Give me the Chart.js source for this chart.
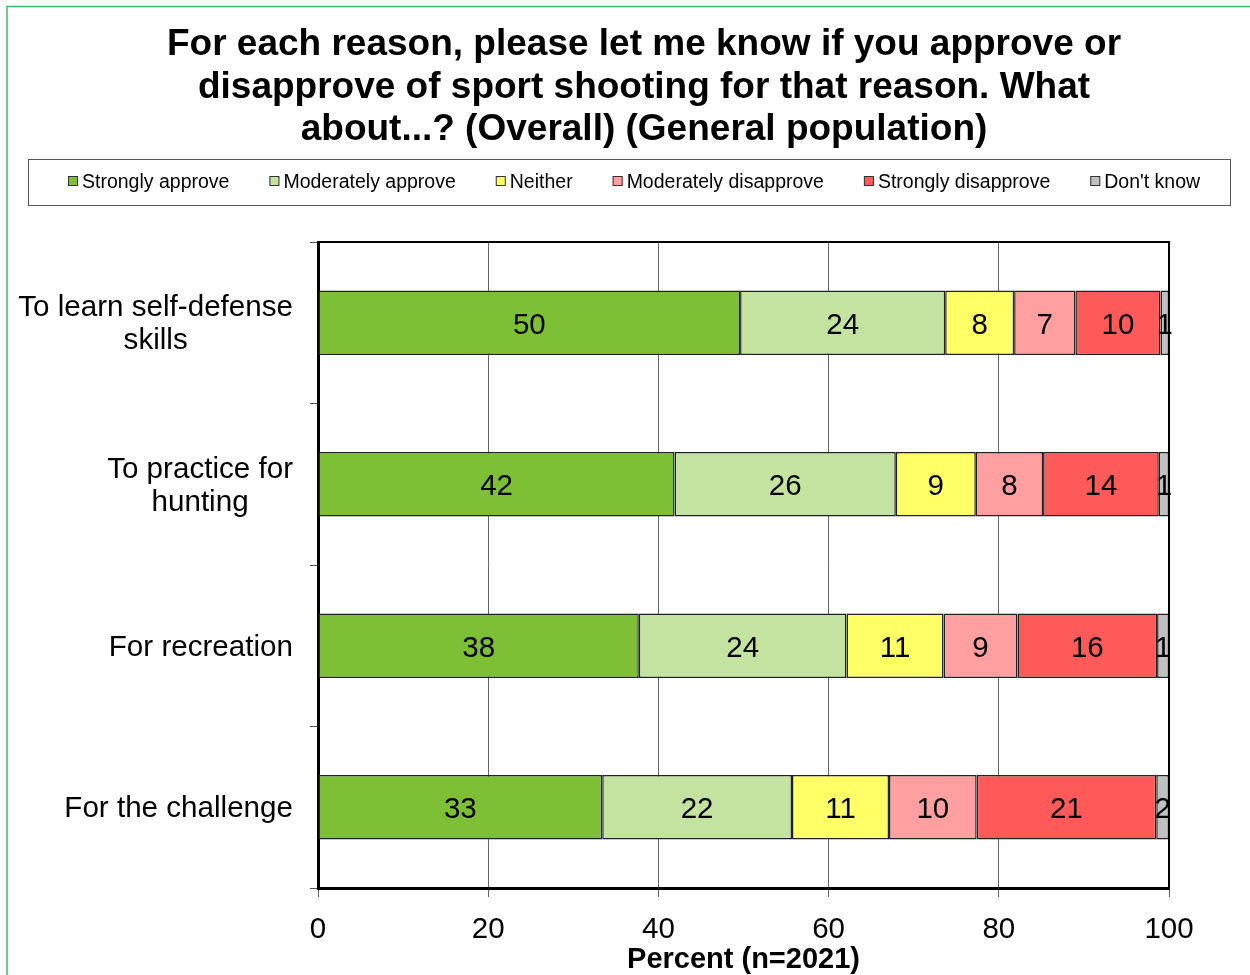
<!DOCTYPE html>
<html>
<head>
<meta charset="utf-8">
<script src="https://cdn.jsdelivr.net/npm/chart.js@4/dist/chart.umd.min.js"></script>
<style>
  html, body { margin: 0; padding: 0; background: #fff; }
  #wrap { position: absolute; left: 0; top: 0; width: 1250px; height: 975px; }
</style>
</head>
<body>
<div id="wrap"><canvas id="c" width="1250" height="975"></canvas></div>
<script>
// ---- Data ----
const titleLines = [
  "For each reason, please let me know if you approve or",
  "disapprove of sport shooting for that reason. What",
  "about...? (Overall) (General population)"
];
const xAxisTitle = "Percent (n=2021)";
const categories = [
  ["To learn self-defense", "skills"],
  ["To practice for", "hunting"],
  ["For recreation"],
  ["For the challenge"]
];
const seriesNames = ["Strongly approve", "Moderately approve", "Neither", "Moderately disapprove", "Strongly disapprove", "Don't know"];
const stronglyApprove      = [49.6, 41.9, 37.7, 33.4];
const moderatelyApprove    = [24.1, 26.0, 24.4, 22.3];
const neither              = [8.1, 9.4, 11.4, 11.4];
const moderatelyDisapprove = [7.2, 7.9, 8.7, 10.3];
const stronglyDisapprove   = [10.0, 13.6, 16.4, 21.1];
const dontKnow             = [1.0, 1.2, 1.4, 1.5];
const xTicks = [0, 20, 40, 60, 80, 100];

const seriesValues = [stronglyApprove, moderatelyApprove, neither, moderatelyDisapprove, stronglyDisapprove, dontKnow];
const seriesColors = ["#7DBF35", "#C5E3A0", "#FFFF66", "#FF9F9F", "#FF5A5A", "#C0C0C0"];

const FONT = "Arial, 'Liberation Sans', sans-serif";

const decorPlugin = {
  id: 'decor',
  beforeDraw(chart) {
    const ctx = chart.ctx;
    ctx.save();
    ctx.fillStyle = '#fff';
    ctx.fillRect(0, 0, chart.width, chart.height);
    // outer green frame
    ctx.strokeStyle = '#3dbb6b';
    ctx.lineWidth = 1.5;
    ctx.beginPath();
    ctx.moveTo(7, chart.height + 5);
    ctx.lineTo(7, 6.5);
    ctx.lineTo(chart.width + 5, 6.5);
    ctx.stroke();
    // title
    ctx.fillStyle = '#000';
    ctx.font = "bold 37px " + FONT;
    ctx.textAlign = 'center';
    ctx.textBaseline = 'middle';
    titleLines.forEach((t, i) => ctx.fillText(t, 644, 45 + i * 42.5));
    // legend box
    ctx.strokeStyle = '#555';
    ctx.lineWidth = 1;
    ctx.strokeRect(28.5, 159.5, 1202, 46);
    ctx.font = "19.5px " + FONT;
    ctx.textAlign = 'left';
    let x = 68;
    seriesNames.forEach((name, i) => {
      ctx.fillStyle = seriesColors[i];
      ctx.fillRect(x, 176, 10, 10);
      ctx.strokeStyle = '#333';
      ctx.strokeRect(x + 0.5, 176.5, 9, 9);
      ctx.fillStyle = '#000';
      ctx.fillText(name, x + 14, 183);
      x += 14 + ctx.measureText(name).width + 40;
    });
    ctx.restore();
  },
  afterDraw(chart) {
    const ctx = chart.ctx;
    const a = chart.chartArea;
    ctx.save();
    // plot frame top/right
    ctx.strokeStyle = '#000';
    ctx.lineWidth = 2;
    ctx.beginPath();
    ctx.moveTo(a.left, a.top);
    ctx.lineTo(a.right, a.top);
    ctx.lineTo(a.right, a.bottom);
    ctx.stroke();
    // category labels
    const ys = chart.scales.y;
    ctx.font = "29.6px " + FONT;
    ctx.fillStyle = '#000';
    ctx.textAlign = 'center';
    ctx.textBaseline = 'middle';
    categories.forEach((lines, i) => {
      const cy = ys.getPixelForValue(i) + 2;
      const w = Math.max(...lines.map(l => ctx.measureText(l).width));
      const cx = 293 - w / 2;
      const lh = 33;
      lines.forEach((l, j) => {
        ctx.fillText(l, cx, cy + (j - (lines.length - 1) / 2) * lh);
      });
    });
    // data labels
    ctx.font = "29.5px " + FONT;
    chart.data.datasets.forEach((ds, di) => {
      const meta = chart.getDatasetMeta(di);
      meta.data.forEach((bar, i) => {
        const v = ds.data[i];
        const left = Math.min(bar.x, bar.base), right = Math.max(bar.x, bar.base);
        ctx.fillText(String(Math.round(v)), (left + right) / 2, bar.y + 3);
      });
    });
    ctx.restore();
  }
};

new Chart(document.getElementById('c'), {
  type: 'bar',
  data: {
    labels: categories,
    datasets: seriesNames.map((n, i) => ({
      label: n,
      data: seriesValues[i],
      backgroundColor: seriesColors[i],
      borderColor: '#222',
      borderWidth: 1.5,
      borderSkipped: false,
      barPercentage: 0.4,
      categoryPercentage: 1.0
    }))
  },
  options: {
    indexAxis: 'y',
    responsive: false,
    animation: false,
    devicePixelRatio: 1,
    layout: { padding: { top: 242, right: 81, left: 0, bottom: 0 } },
    plugins: { legend: { display: false }, title: { display: false }, tooltip: { enabled: false } },
    scales: {
      x: {
        stacked: true,
        min: 0, max: 100,
        afterBuildTicks(s) { s.ticks = xTicks.map(v => ({ value: v })); },
        afterFit(s) { s.height = 87; },
        grid: { color: '#666', lineWidth: 1, tickLength: 9, drawTicks: true },
        border: { color: '#000', width: 3 },
        ticks: { font: { family: FONT, size: 29.5 }, color: '#000', padding: 15, maxRotation: 0 },
        title: { display: true, text: xAxisTitle, font: { family: FONT, size: 29, weight: 'bold', lineHeight: 1.05 }, color: '#000', padding: { top: 0, bottom: 0 } }
      },
      y: {
        stacked: true,
        afterFit(s) { s.width = 318; },
        grid: { drawOnChartArea: false, drawTicks: true, tickLength: 8, color: '#555', offset: true },
        border: { color: '#000', width: 3 },
        ticks: { display: false }
      }
    }
  },
  plugins: [decorPlugin]
});
</script>
</body>
</html>
